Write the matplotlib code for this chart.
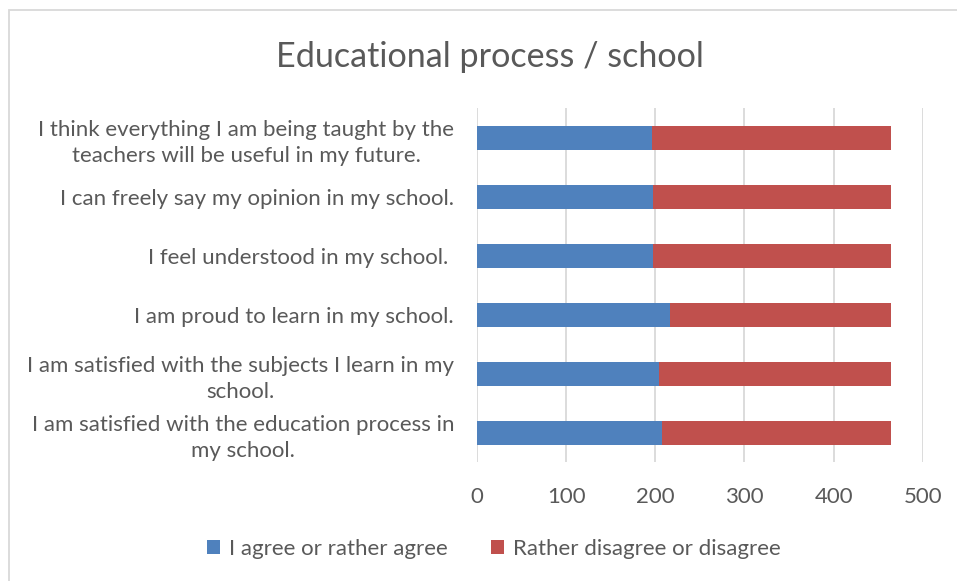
import matplotlib.pyplot as plt
from matplotlib.patches import Rectangle
import numpy as np

plt.rcParams['font.family'] = ['Lato', 'DejaVu Sans']

# data, bottom to top as drawn
categories = ["I am satisfied with the education process in\nmy school.",
              "I am satisfied with the subjects I learn in my\nschool.",
              "I am proud to learn in my school.",
              "I feel understood in my school. ",
              "I can freely say my opinion in my school.",
              "I think everything I am being taught by the\nteachers will be useful in my future."]
agree = [207, 204, 216, 197, 197, 196]
disagree = [257, 260, 248, 267, 267, 268]
series_names = ["I agree or rather agree", "Rather disagree or disagree"]
xticks = [0, 100, 200, 300, 400, 500]

blue = '#4f81bd'
red = '#c0504d'
txt = '#595959'
grid = '#d9d9d9'

fig = plt.figure(figsize=(9.57, 5.81), dpi=100)
ax = fig.add_axes([0.4984, 0.2040, 0.4658, 0.6093])

y = np.arange(len(categories))
ax.barh(y, agree, height=0.4, color=blue, label=series_names[0], zorder=3)
ax.barh(y, disagree, left=agree, height=0.4, color=red, label=series_names[1], zorder=3)

ax.set_xlim(0, 500)
ax.set_ylim(-0.5, len(categories) - 0.5)
ax.set_xticks(xticks)
ax.set_xticklabels([str(t) for t in xticks], fontsize=16, color=txt)
ax.set_yticks(y)
ax.set_yticklabels(categories, fontsize=16, color=txt, multialignment='center', linespacing=1.4)
ax.tick_params(axis='both', length=0)
ax.tick_params(axis='x', pad=18)
ax.tick_params(axis='y', pad=16.5)
ax.grid(axis='x', color=grid, linewidth=1.3, zorder=0)
for s in ax.spines.values():
    s.set_visible(False)

fig.suptitle("Educational process / school", fontsize=24.6, color=txt, x=0.512, y=0.929)

fig.legend(loc='lower center', bbox_to_anchor=(0.516, 0.003), ncol=2, frameon=False,
           fontsize=16, labelcolor=txt, handlelength=0.6, handleheight=0.6,
           handletextpad=0.4, columnspacing=1.95)

# chart border (only top and left visible in the crop)
fig.patches.append(Rectangle((9 / 957, -0.1), 1.2, 1 - 10 / 581 + 0.1, transform=fig.transFigure,
                             fill=False, edgecolor=grid, linewidth=1.3))

fig.savefig('out.png', dpi=100)
